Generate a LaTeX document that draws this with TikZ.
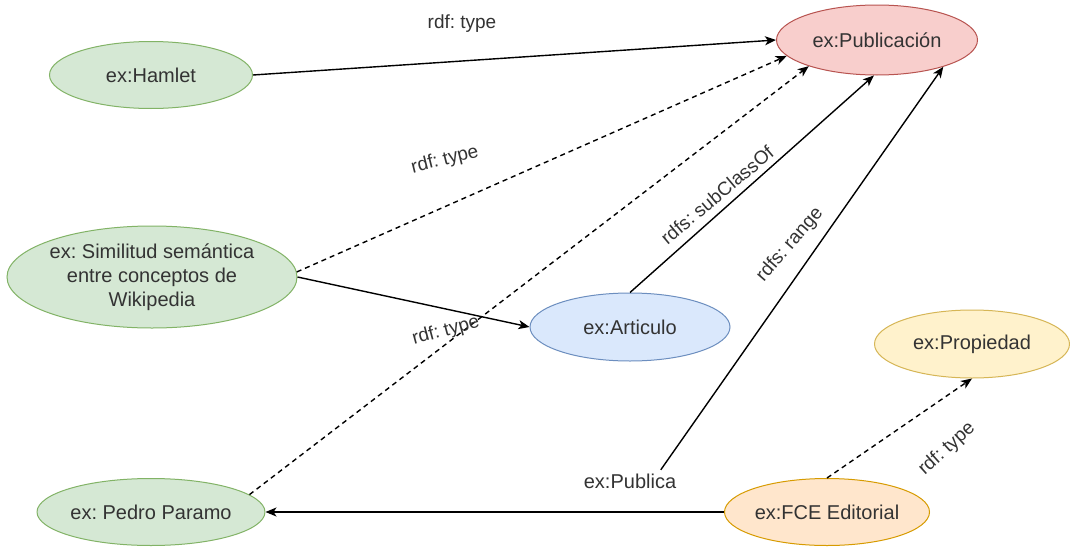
\documentclass[tikz,border=0pt]{standalone}
\usepackage{fontspec}
\setmainfont{Liberation Sans}
\frenchspacing
\usetikzlibrary{shapes.geometric,arrows.meta}
\definecolor{txt}{HTML}{333333}
\definecolor{gfill}{HTML}{D5E8D4}\definecolor{gdraw}{HTML}{82B366}
\definecolor{rfill}{HTML}{F8CECC}\definecolor{rdraw}{HTML}{B85450}
\definecolor{bfill}{HTML}{DAE8FC}\definecolor{bdraw}{HTML}{6C8EBF}
\definecolor{yfill}{HTML}{FFF2CC}\definecolor{ydraw}{HTML}{D6B656}
\definecolor{ofill}{HTML}{FFE6CC}\definecolor{odraw}{HTML}{D79B00}
\begin{document}
\begin{tikzpicture}[x=1pt,y=-1pt,
  font=\fontsize{20}{24}\selectfont, text=txt,
  ent/.style={ellipse, draw, line width=1pt, inner sep=0pt, minimum width=203pt, minimum height=67pt, align=center},
  green/.style={ent, fill=gfill, draw=gdraw},
  lbl/.style={inner sep=1pt, font=\fontsize{19}{22}\selectfont},
  rel/.style={line width=1.4pt, -{Stealth[length=11pt,width=9pt,inset=3pt]}},
  reld/.style={rel, dash pattern=on 5pt off 4pt}]
\useasboundingbox (0,0) rectangle (1070,546);
\fill[white] (0,0) rectangle (1070,546);

\node[green] (hamlet) at (151,75) {ex:Hamlet};
\node[green, minimum width=290pt, minimum height=102pt] (sim) at (152,277) {ex: Similitud semántica\\entre conceptos de\\Wikipedia};
\node[green] (pedro) at (151,512) {ex: Pedro Paramo};
\node[ent, fill=rfill, draw=rdraw, minimum width=201pt, minimum height=70pt] (pub) at (877,40) {ex:Publicación};
\node[ent, fill=bfill, draw=bdraw, minimum width=200pt, minimum height=68pt] (art) at (630,327) {ex:Articulo};
\node[ent, fill=yfill, draw=ydraw, minimum width=195pt, minimum height=68pt] (prop) at (972,344) {ex:Propiedad};
\node[ent, fill=ofill, draw=odraw, minimum width=205pt, minimum height=67pt] (fce) at (827,512) {ex:FCE Editorial};
\node[inner sep=0pt, minimum height=22pt] (publica) at (630,481) {ex:Publica};

\draw[rel] (hamlet.east) -- (pub.west);
\draw[reld] (sim.2) -- (pub.190);
\draw[reld] (pedro.10) -- (pub.201);
\draw[rel] (sim.east) -- (art.west);
\draw[rel] (art.north) -- (pub.265);
\draw[rel] (publica.20) -- (pub.-22);
\draw[rel] (fce.west) -- (pedro.east);
\draw[reld] (fce.north) -- (prop.south);

\node[lbl] (l1) at (462,24) {rdf: type};
\node[lbl, rotate=14] (l2) at (445,160) {rdf: type};
\node[lbl, rotate=15] (l3) at (446,331) {rdf: type};
\node[lbl, rotate=40] (l4) at (717,195) {rdfs: subClassOf};
\node[lbl, rotate=49] (l5) at (790,245) {rdfs: range};
\node[lbl, rotate=42] (l6) at (947,449) {rdf: type};
\end{tikzpicture}
\end{document}
